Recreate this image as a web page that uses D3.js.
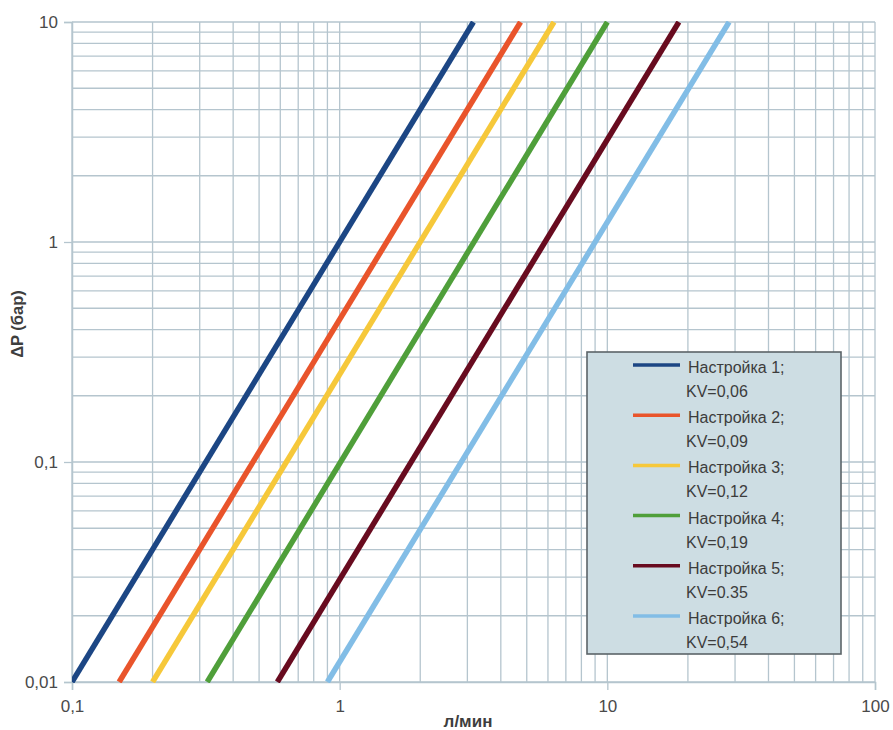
<!DOCTYPE html>
<html>
<head>
<meta charset="utf-8">
<script src="https://cdn.jsdelivr.net/npm/d3@7"></script>
<style>
  html, body { margin: 0; padding: 0; background: #fff; }
  svg { display: block; font-family: "Liberation Sans", Arial, sans-serif; }
</style>
</head>
<body>
<svg id="chart" width="893" height="730"></svg>
<script>
// ---- data ----
const seriesNames = ["Настройка 1;", "Настройка 2;", "Настройка 3;", "Настройка 4;", "Настройка 5;", "Настройка 6;"];
const kvLabels    = ["KV=0,06", "KV=0,09", "KV=0,12", "KV=0,19", "KV=0.35", "KV=0,54"];
const seriesColors = ["#1c4684", "#e9542b", "#f6c83a", "#4f9f3a", "#680b1f", "#82bde6"];
// flow (л/мин) at ΔP = 0.01 bar and at ΔP = 10 bar
const pressureEnds = [0.01, 10];
const flowAtLow  = [0.1, 0.15, 0.2, 0.32, 0.585, 0.9];
const flowAtHigh = [3.16, 4.74, 6.32, 10.0, 18.5, 28.5];
const xTickValues = [0.1, 1, 10, 100];
const xTickLabels = ["0,1", "1", "10", "100"];
const yTickValues = [0.01, 0.1, 1, 10];
const yTickLabels = ["0,01", "0,1", "1", "10"];
const xLabel = "л/мин";
const yLabel = "ΔP (бар)";

// ---- layout ----
const svg = d3.select("#chart");
const m = { left: 72, right: 875, top: 22, bottom: 682 };
const x = d3.scaleLog().domain([0.1, 100]).range([m.left, m.right]);
const y = d3.scaleLog().domain([0.01, 10]).range([m.bottom, m.top]);

const gridColor = "#b5c5ce";

// minor + major grid values
const xGrid = [], yGrid = [];
[0.1, 1, 10].forEach(d => { for (let k = 1; k <= 10; k++) xGrid.push(+(d * k).toPrecision(3)); });
[0.01, 0.1, 1].forEach(d => { for (let k = 1; k <= 10; k++) yGrid.push(+(d * k).toPrecision(3)); });

const grid = svg.append("g");
grid.selectAll("line.v").data(Array.from(new Set(xGrid))).join("line")
  .attr("x1", d => x(d)).attr("x2", d => x(d))
  .attr("y1", m.top).attr("y2", m.bottom)
  .attr("stroke", gridColor).attr("stroke-width", 1.3);
grid.selectAll("line.h").data(Array.from(new Set(yGrid))).join("line")
  .attr("x1", m.left).attr("x2", m.right)
  .attr("y1", d => y(d)).attr("y2", d => y(d))
  .attr("stroke", gridColor).attr("stroke-width", 1.3);

// axes with outward ticks
const xAxis = d3.axisBottom(x).tickValues(xTickValues)
  .tickFormat((d, i) => xTickLabels[i]).tickSize(8).tickPadding(10);
const yAxis = d3.axisLeft(y).tickValues(yTickValues)
  .tickFormat((d, i) => yTickLabels[i]).tickSize(8).tickPadding(6);

const gx = svg.append("g").attr("transform", `translate(0,${m.bottom})`).call(xAxis);
const gy = svg.append("g").attr("transform", `translate(${m.left},0)`).call(yAxis);
[gx, gy].forEach(g => {
  g.select(".domain").attr("stroke", gridColor).attr("stroke-width", 1.5);
  g.selectAll(".tick line").attr("stroke", gridColor).attr("stroke-width", 1.3);
  g.selectAll(".tick text").attr("fill", "#4a4a4a").attr("font-size", 17)
    .attr("font-family", "Liberation Sans, Arial, sans-serif");
});

// axis titles
svg.append("text").attr("x", 468).attr("y", 727).attr("text-anchor", "middle")
  .attr("font-size", 17).attr("font-weight", "bold").attr("fill", "#3e3e3e").text(xLabel);
svg.append("text").attr("transform", "translate(23,324) rotate(-90)").attr("text-anchor", "middle")
  .attr("font-size", 16.5).attr("font-weight", "bold").attr("fill", "#3e3e3e").text(yLabel);

// series lines
const line = d3.line().x(d => x(d[0])).y(d => y(d[1]));
const series = seriesNames.map((n, i) => ({
  name: n, color: seriesColors[i],
  pts: [[flowAtLow[i], pressureEnds[0]], [flowAtHigh[i], pressureEnds[1]]]
}));
svg.append("clipPath").attr("id", "clip").append("rect")
  .attr("x", m.left).attr("y", m.top - 1).attr("width", m.right - m.left).attr("height", m.bottom - m.top + 2);
svg.append("g").attr("clip-path", "url(#clip)")
  .selectAll("path").data(series).join("path")
  .attr("d", d => line(d.pts))
  .attr("fill", "none").attr("stroke", d => d.color).attr("stroke-width", 5.5);

// legend
const lg = svg.append("g");
lg.append("rect").attr("x", 587).attr("y", 352).attr("width", 254).attr("height", 302)
  .attr("fill", "#cddde3").attr("stroke", "#5c6468").attr("stroke-width", 1.6);
series.forEach((s, i) => {
  const yy = 365 + i * 50.2;
  lg.append("line").attr("x1", 633).attr("x2", 680).attr("y1", yy).attr("y2", yy)
    .attr("stroke", s.color).attr("stroke-width", 3.5);
  lg.append("text").attr("x", 688).attr("y", yy + 8).attr("font-size", 16)
    .attr("fill", "#3c3c3c").text(s.name);
  lg.append("text").attr("x", 686).attr("y", yy + 32).attr("font-size", 16)
    .attr("fill", "#3c3c3c").text(kvLabels[i]);
});
</script>
</body>
</html>
